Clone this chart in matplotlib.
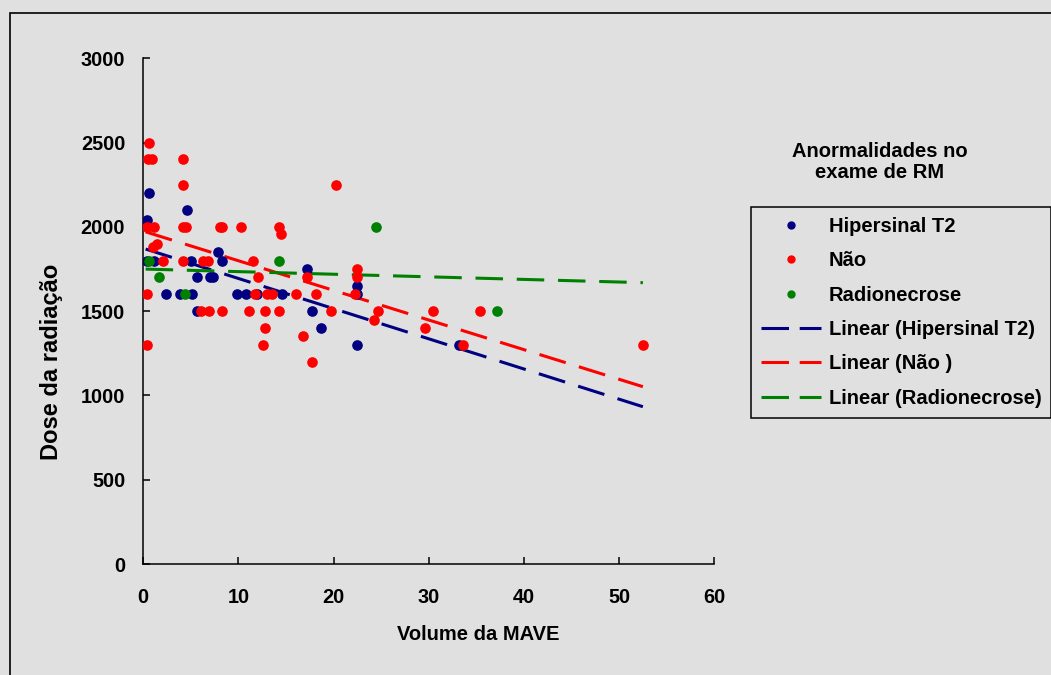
import matplotlib
matplotlib.use("Agg")
import matplotlib.pyplot as plt
from matplotlib.lines import Line2D
from matplotlib.patches import Rectangle
import numpy as np

plt.rcParams['font.family'] = ['Liberation Sans', 'DejaVu Sans']
plt.rcParams['font.weight'] = 'bold'

# Hipersinal T2
hip_x = [0.6, 4.56, 0.35, 7.88, 0.35, 1.1, 4.98, 8.23, 5.67, 7.0, 7.36, 2.38, 3.86,
         5.15, 9.88, 10.79, 12.0, 14.6, 22.42, 17.17, 22.42, 5.7, 17.72, 18.64, 22.42, 33.2]
hip_y = [2200, 2100, 2040, 1850, 1800, 1800, 1800, 1800, 1700, 1700, 1700, 1600, 1600,
         1600, 1600, 1600, 1600, 1600, 1600, 1750, 1650, 1500, 1500, 1400, 1300, 1300]

# Não
nao_x = [0.6, 0.5, 0.95, 4.2, 4.2, 0.35, 1.12, 4.2, 4.45, 8.06, 8.3, 10.25, 14.26, 14.43,
         20.28, 1.05, 1.47, 2.04, 4.2, 6.24, 6.83, 11.56, 12.09, 17.17, 22.42, 22.42, 0.35,
         11.74, 12.97, 13.49, 16.1, 18.1, 22.24, 6.03, 6.94, 8.23, 11.14, 12.79, 14.26,
         19.72, 24.66, 30.47, 35.4, 24.24, 12.79, 29.57, 12.6, 16.8, 17.73, 0.35, 33.56, 52.54]
nao_y = [2500, 2400, 2400, 2400, 2250, 2000, 2000, 2000, 2000, 2000, 2000, 2000, 2000, 1960,
         2250, 1880, 1900, 1800, 1800, 1800, 1800, 1800, 1700, 1700, 1700, 1750, 1600,
         1600, 1600, 1600, 1600, 1600, 1600, 1500, 1500, 1500, 1500, 1500, 1500,
         1500, 1500, 1500, 1500, 1450, 1400, 1400, 1300, 1350, 1200, 1300, 1300, 1300]

# Radionecrose
rad_x = [0.6, 1.68, 4.38, 14.26, 24.45, 37.2]
rad_y = [1800, 1700, 1600, 1800, 2000, 1500]

# linhas de tendência (intercepto, inclinação)
trend_x = [0.25, 52.5]
hip_trend = (1873, -17.9)
nao_trend = (1975, -17.58)
rad_trend = (1750, -1.54)

navy = '#000080'
red = '#FF0000'
green = '#008000'
bg = '#E0E0E0'
fs = 14.5

fig = plt.figure(figsize=(10.51, 6.75), dpi=100, facecolor=bg)
ax = fig.add_axes([0.1363, 0.1644, 0.5433, 0.7492])
ax.set_facecolor(bg)

fig.patches.append(Rectangle((10 / 1051, -0.1), 1.2, 1 - 13 / 675 + 0.1,
                             transform=fig.transFigure, fill=False,
                             edgecolor='black', linewidth=1.2))

ax.scatter(hip_x, hip_y, s=44, color=navy, zorder=3)
ax.scatter(nao_x, nao_y, s=44, color=red, zorder=3)
ax.scatter(rad_x, rad_y, s=44, color=green, zorder=3)

tx = np.array(trend_x)
dash = (9, 4.5)
for (b, m), c in [(hip_trend, navy), (nao_trend, red), (rad_trend, green)]:
    ax.plot(tx, b + m * tx, color=c, lw=2.2, dashes=dash, zorder=2)

ax.set_xlim(0, 60)
ax.set_ylim(0, 3000)
ax.set_xticks(range(0, 61, 10))
ax.set_yticks(range(0, 3001, 500))
ax.spines['top'].set_visible(False)
ax.spines['right'].set_visible(False)
for s in ['left', 'bottom']:
    ax.spines[s].set_linewidth(1.1)
ax.tick_params(axis='both', direction='in', length=5, width=1.1, labelsize=14.3)
ax.tick_params(axis='y', pad=13)
ax.tick_params(axis='x', pad=17)
for lbl in ax.get_xticklabels() + ax.get_yticklabels():
    lbl.set_fontweight('bold')

ax.set_xlabel('Volume da MAVE', fontsize=fs, fontweight='bold', va='top')
ax.xaxis.set_label_coords(0.586, -0.1206)
ax.set_ylabel('Dose da radiação', fontsize=17, fontweight='bold')
ax.yaxis.set_label_coords(-0.141, 0.3995)

handles = [
    Line2D([], [], ls='none', marker='o', ms=5, color=navy),
    Line2D([], [], ls='none', marker='o', ms=5, color=red),
    Line2D([], [], ls='none', marker='o', ms=5, color=green),
    Line2D([], [], color=navy, lw=2.2, dashes=(9, 3.5)),
    Line2D([], [], color=red, lw=2.2, dashes=(9, 3.5)),
    Line2D([], [], color=green, lw=2.2, dashes=(9, 3.5)),
]
labels = ['Hipersinal T2', 'Não', 'Radionecrose',
          'Linear (Hipersinal T2)', 'Linear (Não )', 'Linear (Radionecrose)']
leg = fig.legend(handles, labels, loc='upper left',
                 bbox_to_anchor=(751 / 1051, 1 - 207 / 675),
                 frameon=True, fancybox=False, edgecolor='black', facecolor=bg,
                 framealpha=1, borderaxespad=0, handlelength=3.0,
                 handletextpad=0.35, labelspacing=0.76, borderpad=0.5,
                 prop={'size': fs, 'weight': 'bold'})
leg.get_frame().set_linewidth(1.1)

fig.text(880 / 1051, 1 - 162 / 675, 'Anormalidades no\nexame de RM', ha='center',
         va='center', fontsize=fs, fontweight='bold', linespacing=1.15)

fig.savefig('out.png', dpi=100, facecolor=bg)
